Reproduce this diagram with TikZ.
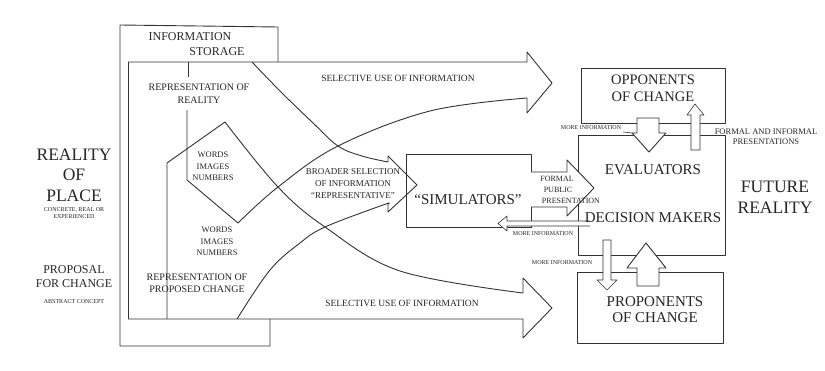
\documentclass[tikz,border=0pt]{standalone}
\usepackage{fontspec}
\setmainfont{Liberation Serif}
\begin{document}
\begin{tikzpicture}[x=1pt,y=-1pt,
  ln/.style={line width=0.9pt, draw=black!80, line join=round},
  tn/.style={line width=0.6pt, draw=black!80, line join=round},
  fat/.style={ln, fill=white},
  lbl/.style={inner sep=0pt, text=black!85, align=center},
  huge/.style={lbl, font=\fontsize{17.5}{20.5}\selectfont},
  big/.style={lbl, font=\fontsize{15}{16}\selectfont},
  med/.style={lbl, font=\fontsize{12}{14}\selectfont},
  sm/.style={lbl, font=\fontsize{10}{12.5}\selectfont},
  tiny/.style={lbl, font=\fontsize{8.5}{11.5}\selectfont},
  micro/.style={lbl, font=\fontsize{6}{7}\selectfont}]
\useasboundingbox (0,0) rectangle (825,371);
\fill[white] (0,0) rectangle (825,371);

% ---- information storage frame ----
\draw[ln] (278,62) -- (278,27) -- (120,25) -- (120,346) -- (270,346) -- (270,319);
\draw[ln] (128,62) -- (128,319);
\draw[ln] (188,62) -- (188,77);
\draw[ln] (187,110) -- (187,180) -- (238,223);
\draw[ln] (225,122) -- (167,163) -- (167,319);

% ---- top selective arrow ----
\draw[ln] (128,62) -- (527,62) -- (527,52) -- (552,83) -- (527,113) -- (527,98);
\draw[ln] plot[smooth, tension=0.6] coordinates {(238,223) (278,187) (338,146) (430,111) (527,98)};

% ---- bottom selective arrow ----
\draw[ln] (128,319) -- (523,319) -- (523,338) -- (552,308) -- (523,278) -- (523,293);
\draw[ln] plot[smooth, tension=0.6] coordinates {(225,122) (278,187) (325,227) (400,271) (523,293)};

% ---- broader selection arrow ----
\draw[ln] plot[smooth, tension=0.6] coordinates {(252,62) (280,91) (312,122) (338,146) (362,156) (388,162)};
\draw[ln] plot[smooth, tension=0.6] coordinates {(237,319) (270,270) (300,243) (325,227) (383,205) (388,204)};
\draw[ln] (388,162) -- (388,156) -- (417,185) -- (388,212) -- (388,204);

% ---- simulators ----
\draw[ln] (406,154) rectangle (531,227);
\node[big] (sim) at (468,200) {``SIMULATORS''};

% ---- right boxes ----
\draw[ln] (581,68) rectangle (725,123);
\draw[ln] (578,135) rectangle (725,255);
\draw[ln] (577,272) rectangle (723,343);

% formal public presentation arrow
\draw[fat] (531,172) -- (567,172) -- (567,160) -- (594,188) -- (567,216) -- (567,207) -- (531,207);
% more information arrow to simulators
\draw[tn, fill=white] (590,221) -- (507,221) -- (507,216) -- (498,223.5) -- (507,231) -- (507,226) -- (590,226);

% fat down arrow (opponents -> evaluators)
\draw[fat] (637,118) -- (659,118) -- (659,133) -- (666,133) -- (649,152) -- (632,133) -- (637,133) -- cycle;
\draw[tn] (623,132) -- (632,133);
% thin up arrow (formal and informal presentations)
\draw[tn, fill=white] (691,150) -- (691,115) -- (687,115) -- (695,104) -- (704,115) -- (700,115) -- (700,150) -- cycle;
% fat up arrow (proponents -> evaluators)
\draw[fat] (637,286) -- (637,268) -- (627,268) -- (646,243) -- (666,268) -- (659,268) -- (659,286) -- cycle;
% thin down arrow (more information to proponents)
\draw[tn, fill=white] (603,240) -- (611,240) -- (611,280) -- (617,280) -- (607,290) -- (597,280) -- (603,280) -- cycle;

% ---- texts ----
\node[huge] (rop) at (74,175) {REALITY\\OF\\PLACE};
\node[micro] (ropsub) at (74,213.5) {CONCRETE, REAL OR\\EXPERIENCED};
\node[med] (pfc) at (74,277) {PROPOSAL\\FOR CHANGE};
\node[micro] (pfcsub) at (74,302) {ABSTRACT CONCEPT};

\node[med] (info) at (190,37) {INFORMATION};
\node[med] (stor) at (217,52) {STORAGE};
\node[sm] (ror) at (199,93.5) {REPRESENTATION OF\\REALITY};
\node[tiny] (w1) at (213,166.5) {WORDS\\IMAGES\\NUMBERS};
\node[tiny] (w2) at (217,241.5) {WORDS\\IMAGES\\NUMBERS};
\node[sm] (rpc) at (197,283) {REPRESENTATION OF\\PROPOSED CHANGE};

\node[lbl, font=\fontsize{9.5}{11}\selectfont] (sel1) at (398,78) {SELECTIVE USE OF INFORMATION};
\node[lbl, font=\fontsize{9.5}{11}\selectfont] (sel2) at (402,303) {SELECTIVE USE OF INFORMATION};
\node[lbl, font=\fontsize{9}{12}\selectfont] (broad) at (353,184) {BROADER SELECTION\\OF INFORMATION\\``REPRESENTATIVE''};

\node[lbl, font=\fontsize{14.5}{17}\selectfont] (opp) at (653,88.5) {OPPONENTS\\OF CHANGE};
\node[big] (eval) at (653,170) {EVALUATORS};
\node[big] (dm) at (653,218) {DECISION MAKERS};
\node[lbl, font=\fontsize{15}{15.5}\selectfont] (prop) at (655,309.5) {PROPONENTS\\OF CHANGE};
\node[huge] (fut) at (775,197.5) {FUTURE\\REALITY};

\node[lbl, font=\fontsize{8.5}{10}\selectfont] (fip) at (766,137) {FORMAL AND INFORMAL\\PRESENTATIONS};
\node[lbl, font=\fontsize{8}{11}\selectfont] (fpp1) at (557,179) {FORMAL};
\node[lbl, font=\fontsize{8}{11}\selectfont] (fpp2) at (558,190) {PUBLIC};
\node[lbl, font=\fontsize{8}{11}\selectfont] (fpp3) at (571,201) {PRESENTATION};

\node[micro] (mi1) at (591,128) {MORE INFORMATION};
\node[micro] (mi2) at (543,234) {MORE INFORMATION};
\node[micro] (mi3) at (562,263) {MORE INFORMATION};
\end{tikzpicture}
\end{document}
